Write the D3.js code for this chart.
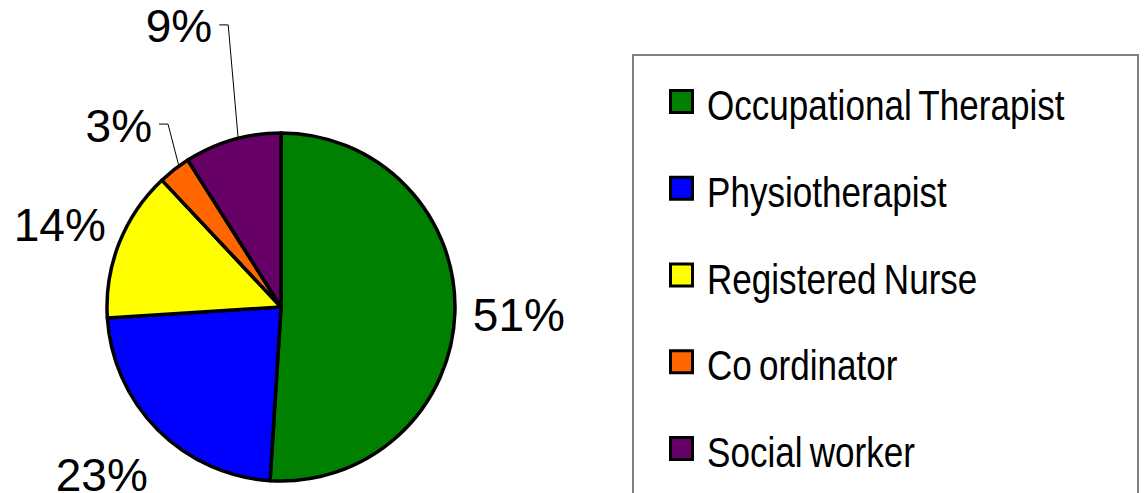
<!DOCTYPE html>
<html>
<head>
<meta charset="utf-8">
<script src="https://cdn.jsdelivr.net/npm/d3@7"></script>
<style>
  html, body { margin: 0; padding: 0; background: #fff; }
  svg { display: block; }
  .pct { font-family: "Liberation Sans", Arial, sans-serif; font-size: 46px; fill: #000; }
  .leg { font-family: "Liberation Sans", Arial, sans-serif; font-size: 42px; fill: #000; word-spacing: -3px; }
</style>
</head>
<body>
<svg id="chart" width="1146" height="493"></svg>
<script>
// data
var categories = ["Occupational Therapist", "Physiotherapist", "Registered Nurse", "Co ordinator", "Social worker"];
var values = [51, 23, 14, 3, 9];
var colors = ["#008000", "#0000FF", "#FFFF00", "#FF6600", "#660066"];
var labels = ["51%", "23%", "14%", "3%", "9%"];

var svg = d3.select("svg#chart"),
    width = +svg.attr("width"),
    height = +svg.attr("height");

var cx = 281, cy = 307, radius = 174;

// label placement (radius from centre, angle nudge in degrees), leader = dragged label with line
var labelLayout = [
  {r: 238, da: 0},
  {r: 245, da: 2},
  {r: 236, da: -1.2},
  {r: 215, da: 6.1, leader: true},
  {r: 287, da: 5.6, leader: true}
];

var pie = d3.pie().sort(null).value(function(d) { return d; });
var arcs = pie(values);

var arc = d3.arc().innerRadius(0).outerRadius(radius);

var g = svg.append("g").attr("transform", "translate(" + cx + "," + cy + ")");

//slices
g.selectAll("path.slice")
  .data(arcs)
  .enter().append("path")
  .attr("class", "slice")
  .attr("d", arc)
  .attr("fill", function(d, i) { return colors[i]; })
  .attr("stroke", "#000")
  .attr("stroke-width", 3.5)
  .attr("stroke-linejoin", "round");

function polar(r, a) {
  return [Math.sin(a) * r, -Math.cos(a) * r];
}

//percent labels
arcs.forEach(function(d, i) {
  var lay = labelLayout[i];
  var mid = (d.startAngle + d.endAngle) / 2;
  var a = mid + lay.da * Math.PI / 180;
  var p = polar(lay.r, a);
  if (lay.leader) {
    var s = polar(radius + 1, mid + 2 * Math.PI / 180);
    g.append("polyline")
      .attr("points", [[p[0] - 9, p[1]], p, s].map(function(q) { return q.join(","); }).join(" "))
      .attr("fill", "none")
      .attr("stroke", "#000")
      .attr("stroke-width", 1);
    g.append("text")
      .attr("class", "pct")
      .attr("x", p[0] - 16)
      .attr("y", p[1])
      .attr("dy", "0.38em")
      .attr("text-anchor", "end")
      .text(labels[i]);
  } else {
    g.append("text")
      .attr("class", "pct")
      .attr("x", p[0])
      .attr("y", p[1])
      .attr("dy", "0.36em")
      .attr("text-anchor", "middle")
      .text(labels[i]);
  }
});

//legend
var legend = svg.append("g").attr("class", "legend");
legend.append("rect")
  .attr("x", 633)
  .attr("y", 55)
  .attr("width", 505)
  .attr("height", 470)
  .attr("fill", "#fff")
  .attr("stroke", "#808080")
  .attr("stroke-width", 2);

var rowY = d3.scalePoint().domain(categories).range([120, 467]);

var item = legend.selectAll("g.item")
  .data(categories)
  .enter().append("g")
  .attr("class", "item")
  .attr("transform", function(d) { return "translate(0," + rowY(d) + ")"; });

item.append("rect")
  .attr("x", 670.5)
  .attr("y", -29.5)
  .attr("width", 22)
  .attr("height", 22)
  .attr("fill", function(d, i) { return colors[i]; })
  .attr("stroke", "#000")
  .attr("stroke-width", 3);

// narrow face is not installed, so squeeze the regular one
item.append("text")
  .attr("class", "leg")
  .attr("transform", "translate(707,0) scale(0.835,1)")
  .text(function(d) { return d; });
</script>
</body>
</html>
